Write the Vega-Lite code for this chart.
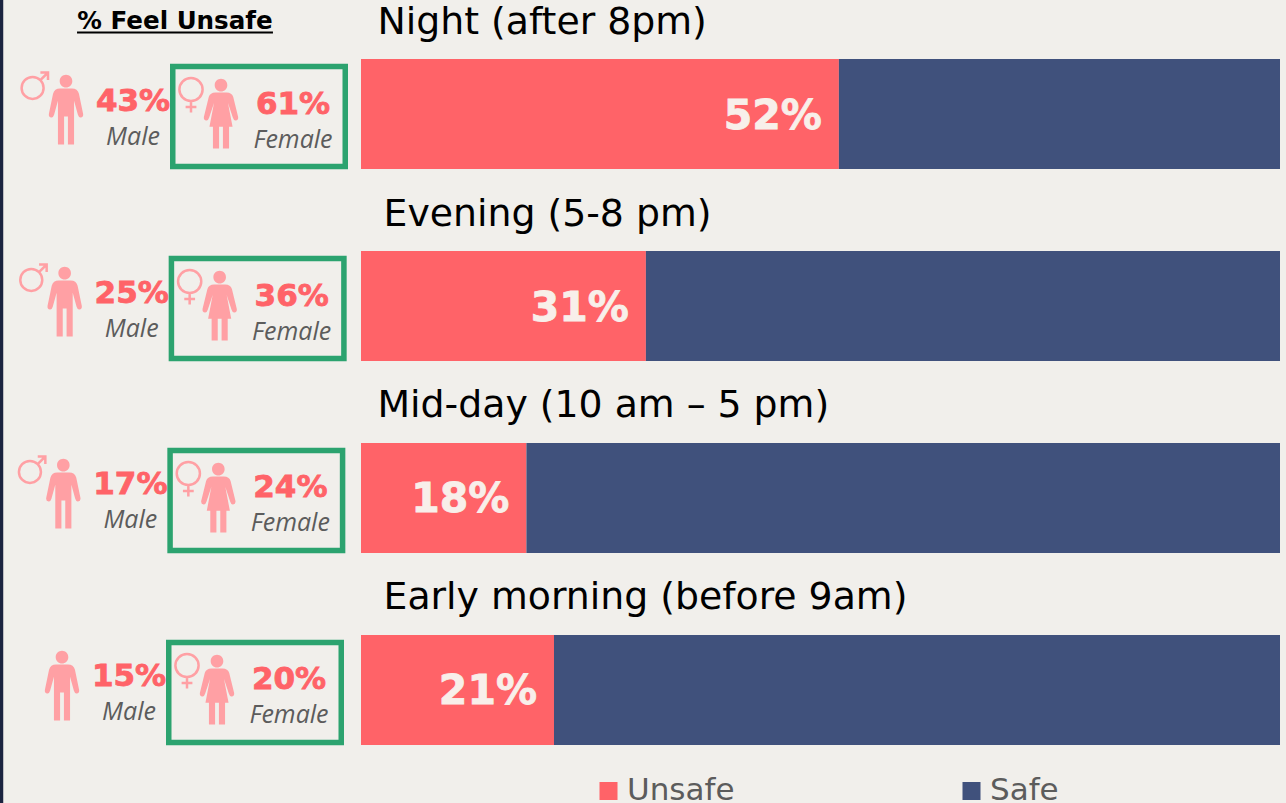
{
"$schema":"https://vega.github.io/schema/vega-lite/v6.json",
"width":1286,"height":803,"padding":0,"autosize":"none","background":"#f1efeb",
"config":{"view":{"stroke":null},"text":{"font":"DejaVu Sans"}},
"datasets":{
"bars":[
{"period":"Night (after 8pm)","status":"Unsafe","share":0.52},{"period":"Night (after 8pm)","status":"Safe","share":0.48},
{"period":"Evening (5-8 pm)","status":"Unsafe","share":0.31},{"period":"Evening (5-8 pm)","status":"Safe","share":0.69},
{"period":"Mid-day (10 am – 5 pm)","status":"Unsafe","share":0.18},{"period":"Mid-day (10 am – 5 pm)","status":"Safe","share":0.82},
{"period":"Early morning (before 9am)","status":"Unsafe","share":0.21},{"period":"Early morning (before 9am)","status":"Safe","share":0.79}],
"gender":[
{"period":"Night (after 8pm)","gender":"Male","share":0.43},{"period":"Night (after 8pm)","gender":"Female","share":0.61},
{"period":"Evening (5-8 pm)","gender":"Male","share":0.25},{"period":"Evening (5-8 pm)","gender":"Female","share":0.36},
{"period":"Mid-day (10 am – 5 pm)","gender":"Male","share":0.17},{"period":"Mid-day (10 am – 5 pm)","gender":"Female","share":0.24},
{"period":"Early morning (before 9am)","gender":"Male","share":0.15},{"period":"Early morning (before 9am)","gender":"Female","share":0.20}]
},
"resolve":{"scale":{"x":"independent"}},
"encoding":{"y":{"field":"period","type":"nominal","axis":null,"scale":{"type":"band","domain":["Night (after 8pm)","Evening (5-8 pm)","Mid-day (10 am – 5 pm)","Early morning (before 9am)"],"paddingInner":0.427,"paddingOuter":0.3047}},
 "xOffset":{"field":"period","type":"nominal","scale":{"type":"point","padding":0,"domain":["Night (after 8pm)","Evening (5-8 pm)","Mid-day (10 am – 5 pm)","Early morning (before 9am)"],"range":[0,-4]}}},
"layer":[
{
"data":{"name":"bars"},
"encoding":{"xOffset":null,"x":{"field":"share","type":"quantitative","axis":null,"scale":{"domain":[0,1],"range":[361,1280]}}},
"layer":[
{"mark":{"type":"bar","size":110,"yOffset":0.5},
 "encoding":{"x":{"field":"share","type":"quantitative","stack":"zero","axis":null,"scale":{"domain":[0,1],"range":[361,1280]}},
  "order":{"field":"status","sort":"descending"},
  "color":{"field":"status","type":"nominal","scale":{"domain":["Unsafe","Safe"],"range":["#ff6368","#40517c"]},
   "legend":{"title":null,"orient":"none","legendX":593,"legendY":773,"direction":"horizontal","symbolType":"square","symbolSize":324,"symbolStrokeWidth":0,"symbolOpacity":1,"labelFontSize":31,"labelFont":"DejaVu Sans","labelColor":"#5c5c5c","labelOffset":3,"columnPadding":221,"clipHeight":36}}}},
{"transform":[{"filter":"datum.status==='Unsafe'"}],
 "mark":{"type":"text","align":"right","baseline":"middle","dx":-17,"dy":3,"fontSize":41,"fontWeight":"bold","color":"#f8efea","stroke":"#f8efea","strokeWidth":0.8},
 "encoding":{"text":{"field":"share","type":"quantitative","format":".0%"}}},
{"transform":[{"filter":"datum.status==='Unsafe' && (datum.period[0]==='N' || datum.period[0]==='M')"}],
 "mark":{"type":"text","align":"left","baseline":"middle","dx":16.5,"dy":-91,"fontSize":37.8,"color":"#000000"},
 "encoding":{"x":{"datum":0,"type":"quantitative","axis":null,"scale":{"domain":[0,1],"range":[361,1280]}},"text":{"field":"period"}}},
{"transform":[{"filter":"datum.status==='Unsafe' && (datum.period[0]==='E')"}],
 "mark":{"type":"text","align":"left","baseline":"middle","dx":22.5,"dy":-91,"fontSize":37.8,"color":"#000000"},
 "encoding":{"x":{"datum":0,"type":"quantitative","axis":null,"scale":{"domain":[0,1],"range":[361,1280]}},"text":{"field":"period"}}},
{"transform":[{"filter":"datum.status==='Unsafe' && datum.period[0]==='N'"}],
 "mark":{"type":"text","align":"center","baseline":"middle","dy":-91.5,"fontSize":24.6,"fontWeight":"bold","color":"#000000","text":"% Feel Unsafe"},
 "encoding":{"x":{"datum":-0.2024,"type":"quantitative"}}},
{"transform":[{"filter":"datum.status==='Unsafe' && datum.period[0]==='N'"}],
 "mark":{"type":"rule","strokeWidth":2,"color":"#000000","yOffset":-81},
 "encoding":{"x":{"datum":-0.3090,"type":"quantitative"},"x2":{"datum":-0.0958}}},
{"transform":[{"filter":"datum.status==='Unsafe' && datum.period[0]==='N'"}],
 "mark":{"type":"rule","strokeWidth":3.5,"color":"#1b2440"},
 "encoding":{"x":{"datum":-0.3912,"type":"quantitative"},"y":null}}
]},
{
"data":{"name":"gender"},
"encoding":{"x":{"field":"gender","type":"nominal","axis":null,"scale":{"type":"point","padding":0,"domain":["Male","Female"],"range":[133,293]}}},
"layer":[
{"transform":[{"filter":"datum.gender==='Male'"}],
 "mark":{"type":"text","align":"center","baseline":"middle","dy":-12,"fontSize":31,"fontWeight":"bold","color":"#ff6368","stroke":"#ff6368","strokeWidth":0.8},
 "encoding":{"text":{"field":"share","type":"quantitative","format":".0%"}}},
{"transform":[{"filter":"datum.gender==='Female'"}],
 "mark":{"type":"text","align":"center","baseline":"middle","dy":-9,"fontSize":31,"fontWeight":"bold","color":"#ff6368","stroke":"#ff6368","strokeWidth":0.8},
 "encoding":{"text":{"field":"share","type":"quantitative","format":".0%"}}},
{"transform":[{"filter":"datum.gender==='Male'"}],
 "mark":{"type":"text","align":"center","baseline":"middle","dy":23,"fontSize":25,"fontStyle":"italic","font":"Open Sans","color":"#5c5c5c"},
 "encoding":{"text":{"field":"gender"}}},
{"transform":[{"filter":"datum.gender==='Female'"}],
 "mark":{"type":"text","align":"center","baseline":"middle","dy":26,"fontSize":25,"fontStyle":"italic","font":"Open Sans","color":"#5c5c5c"},
 "encoding":{"text":{"field":"gender"}}}
]},
{
"data":{"name":"gender"},
"encoding":{"x":{"field":"gender","type":"nominal","axis":null,"scale":{"type":"point","padding":0,"domain":["Male","Female"],"range":[66,221]}}},
"layer":[
{"transform":[{"filter":"datum.gender==='Male'"}],
 "mark":{"type":"point","filled":true,"opacity":1,"size":4900,"color":"#ffa0a4","strokeWidth":0,"yOffset":-4,
  "shape":"M-.18 -.81a.18 .18 0 1 1 .36 0a.18 .18 0 1 1 -.36 0ZM-.17 -.6H.17Q.33 -.6 .37 -.45L.49 .13Q.5 .22 .42 .23Q.37 .24 .34 .15L.23 -.25V1H.055V.2H-.055V1H-.23V-.25L-.34 .15Q-.37 .24 -.42 .23Q-.5 .22 -.49 .13L-.37 -.45Q-.33 -.6 -.17 -.6Z"}},
{"transform":[{"filter":"datum.gender==='Female'"}],
 "mark":{"type":"point","filled":true,"opacity":1,"size":4900,"color":"#ffa0a4","strokeWidth":0,"yOffset":0,
  "shape":"M-.18 -.81a.18 .18 0 1 1 .36 0a.18 .18 0 1 1 -.36 0ZM-.16 -.6H.16Q.31 -.6 .35 -.47L.49 .1Q.5 .19 .42 .2Q.37 .21 .34 .12L.2 -.3L.33 .38H.23V1H.055V.38H-.055V1H-.23V.38H-.33L-.2 -.3L-.34 .12Q-.37 .21 -.42 .2Q-.5 .19 -.49 .1L-.35 -.47Q-.31 -.6 -.16 -.6Z"}}
]},
{
"data":{"name":"gender"},
"encoding":{"x":{"field":"gender","type":"nominal","axis":null,"scale":{"type":"point","padding":0,"domain":["Male","Female"],"range":[40,191]}}},
"layer":[
{"transform":[{"filter":"datum.gender==='Male' && datum.period[1]!=='a'"}],
 "mark":{"type":"point","filled":false,"opacity":1,"size":1600,"color":"#ffa0a4","strokeWidth":2.5,"yOffset":-33,
  "shape":"M-.92 .37a.55 .55 0 1 1 1.1 0a.55 .55 0 1 1 -1.1 0M.03 -.03L.4 -.4M.02 -.4H.4V-.02"}},
{"transform":[{"filter":"datum.gender==='Female'"}],
 "mark":{"type":"point","filled":false,"opacity":1,"size":1600,"color":"#ffa0a4","strokeWidth":2.5,"yOffset":-16,
  "shape":"M-.58 -.4a.58 .58 0 1 1 1.16 0a.58 .58 0 1 1 -1.16 0M0 .18V.75M-.27 .47H.27"}}
]},
{
"data":{"name":"gender"},
"transform":[{"filter":"datum.gender==='Female'"}],
"mark":{"type":"point","filled":false,"opacity":1,"size":29756,"color":"#2ca36f","strokeWidth":5.5,"yOffset":3,
  "shape":"M-1 -.58H1V.58H-1Z"},
"encoding":{"x":{"field":"gender","type":"nominal","axis":null,"scale":{"type":"point","padding":0,"domain":["Male","Female"],"range":[100,259]}}}
}
]
}
